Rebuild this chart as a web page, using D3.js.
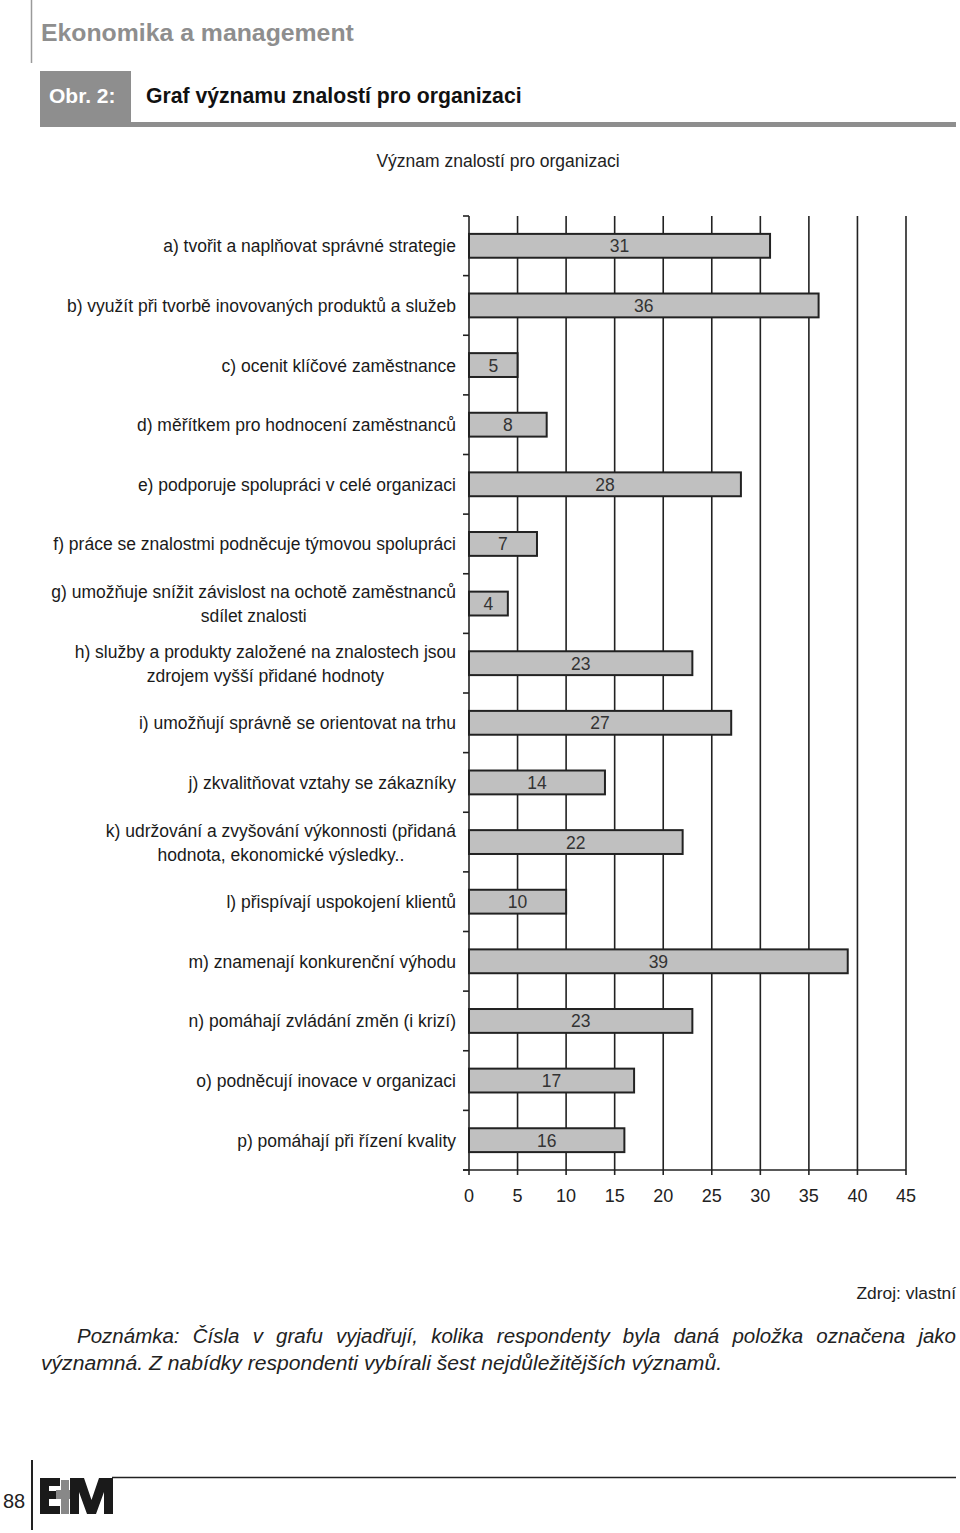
<!DOCTYPE html>
<html><head><meta charset="utf-8">
<script src="https://cdn.jsdelivr.net/npm/d3@7"></script>
<style>body{margin:0;background:#fff}svg{display:block}text{font-family:"Liberation Sans",Arial,Helvetica,sans-serif}</style>
</head><body>
<script>
const categories = [
  ["a) tvořit a naplňovat správné strategie"],
  ["b) využít při tvorbě inovovaných produktů a služeb"],
  ["c) ocenit klíčové zaměstnance"],
  ["d) měřítkem pro hodnocení zaměstnanců"],
  ["e) podporuje spolupráci v celé organizaci"],
  ["f) práce se znalostmi podněcuje týmovou spolupráci"],
  ["g) umožňuje snížit závislost na ochotě zaměstnanců", "sdílet znalosti"],
  ["h) služby a produkty založené na znalostech jsou", "zdrojem vyšší přidané hodnoty"],
  ["i) umožňují správně se orientovat na trhu"],
  ["j) zkvalitňovat vztahy se zákazníky"],
  ["k) udržování a zvyšování výkonnosti (přidaná", "hodnota, ekonomické výsledky.."],
  ["l) přispívají uspokojení klientů"],
  ["m) znamenají konkurenční výhodu"],
  ["n) pomáhají zvládání změn (i krizí)"],
  ["o) podněcují inovace v organizaci"],
  ["p) pomáhají při řízení kvality"]
];
const values = [31, 36, 5, 8, 28, 7, 4, 23, 27, 14, 22, 10, 39, 23, 17, 16];
const xTicks = [0, 5, 10, 15, 20, 25, 30, 35, 40, 45];
const chartTitle = "Význam znalostí pro organizaci";
const noteLine1 = "Poznámka: Čísla v grafu vyjadřují, kolika respondenty byla daná položka označena jako";
const noteLine2 = "významná. Z nabídky respondenti vybírali šest nejdůležitějších významů.";

const W = 960, H = 1533;
const svg = d3.select("body").append("svg").attr("width", W).attr("height", H);

// Header
svg.append("line").attr("x1", 31.5).attr("x2", 31.5).attr("y1", 0).attr("y2", 63).attr("stroke", "#9a9a9a").attr("stroke-width", 1.5);
svg.append("text").attr("x", 41).attr("y", 41).attr("font-size", 24.8).attr("font-weight", "bold").attr("fill", "#8e8e8e").text("Ekonomika a management");
svg.append("rect").attr("x", 40).attr("y", 71).attr("width", 91).attr("height", 56).attr("fill", "#8e8e8e");
svg.append("rect").attr("x", 40).attr("y", 122).attr("width", 916).attr("height", 5).attr("fill", "#8e8e8e");
svg.append("text").attr("x", 49).attr("y", 103).attr("font-size", 21).attr("font-weight", "bold").attr("fill", "#fff").text("Obr. 2:");
svg.append("text").attr("x", 146).attr("y", 103).attr("font-size", 21.2).attr("font-weight", "bold").attr("fill", "#111").text("Graf významu znalostí pro organizaci");

// Chart title
svg.append("text").attr("x", 498).attr("y", 167).attr("text-anchor", "middle").attr("font-size", 17.5).attr("fill", "#222").text(chartTitle);

// Scales
const x0 = 469, x1 = 906, yTop = 216, yBot = 1170;
const x = d3.scaleLinear().domain([0, 45]).range([x0, x1]);
const y = d3.scaleBand().domain(d3.range(categories.length)).range([yTop, yBot]).padding(0);
const barH = y.bandwidth() * 0.4;
const ink = "#222";

const g = svg.append("g");
g.selectAll("line.grid").data(xTicks.slice(1)).join("line")
  .attr("x1", d => x(d)).attr("x2", d => x(d)).attr("y1", yTop).attr("y2", yBot)
  .attr("stroke", ink).attr("stroke-width", 1.6);
g.append("line").attr("x1", x0).attr("x2", x0).attr("y1", yTop).attr("y2", yBot).attr("stroke", ink).attr("stroke-width", 1.6);
const bounds = d3.range(categories.length + 1).map(i => i < categories.length ? y(i) : yBot);
g.selectAll("line.ytick").data(bounds).join("line")
  .attr("x1", x0 - 6).attr("x2", x0).attr("y1", d => d).attr("y2", d => d).attr("stroke", ink).attr("stroke-width", 1.6);
g.append("line").attr("x1", x0 - 6).attr("x2", x1).attr("y1", yBot).attr("y2", yBot).attr("stroke", ink).attr("stroke-width", 1.6);
g.selectAll("line.xtick").data(xTicks).join("line")
  .attr("x1", d => x(d)).attr("x2", d => x(d)).attr("y1", yBot).attr("y2", yBot + 5).attr("stroke", ink).attr("stroke-width", 1.6);
g.selectAll("text.xlab").data(xTicks).join("text")
  .attr("x", d => x(d)).attr("y", yBot + 32).attr("text-anchor", "middle").attr("font-size", 18).attr("fill", "#222").text(d => d);

g.selectAll("rect.bar").data(values).join("rect")
  .attr("x", x(0)).attr("y", (d, i) => y(i) + y.bandwidth() / 2 - barH / 2)
  .attr("width", d => x(d) - x(0)).attr("height", barH)
  .attr("fill", "#c0c0c0").attr("stroke", ink).attr("stroke-width", 2);
g.selectAll("text.val").data(values).join("text")
  .attr("x", d => (x(0) + x(d)) / 2).attr("y", (d, i) => y(i) + y.bandwidth() / 2 + 6.5)
  .attr("text-anchor", "middle").attr("font-size", 17.5).attr("fill", "#333").text(d => d);

categories.forEach((lines, i) => {
  const cy = y(i) + y.bandwidth() / 2;
  const right = 456;
  if (lines.length === 1) {
    svg.append("text").attr("x", right).attr("y", cy + 6.5).attr("text-anchor", "end")
      .attr("font-size", 17.5).attr("fill", "#1a1a1a").text(lines[0]);
  } else {
    const ts = lines.map((l, k) => svg.append("text").attr("y", cy - 12 + 24 * k + 6.5)
      .attr("font-size", 17.5).attr("fill", "#1a1a1a").attr("text-anchor", "middle").text(l));
    const maxW = d3.max(ts, t => t.node().getComputedTextLength());
    ts.forEach(t => t.attr("x", right - maxW / 2));
  }
});

svg.append("text").attr("x", 956).attr("y", 1299).attr("text-anchor", "end").attr("font-size", 17.4).attr("fill", "#222").text("Zdroj: vlastní");

function justify(str, xL, xR, yy) {
  const words = str.split(" ");
  const tmp = words.map(w => svg.append("text").attr("font-size", 20.5).attr("font-style", "italic").attr("fill", "#222").attr("y", yy).text(w));
  const widths = tmp.map(t => t.node().getComputedTextLength());
  const gap = (xR - xL - d3.sum(widths)) / (words.length - 1);
  let cx = xL;
  tmp.forEach((t, k) => { t.attr("x", cx); cx += widths[k] + gap; });
}
justify(noteLine1, 77, 956, 1343);
const n2 = svg.append("text").attr("x", 41).attr("y", 1370).attr("font-size", 20.5).attr("font-style", "italic").attr("fill", "#222").text(noteLine2);
n2.attr("textLength", 681).attr("lengthAdjust", "spacingAndGlyphs");

svg.append("line").attr("x1", 32).attr("x2", 32).attr("y1", 1460).attr("y2", 1530).attr("stroke", "#222").attr("stroke-width", 2);
svg.append("text").attr("x", 3).attr("y", 1508).attr("font-size", 20).attr("fill", "#222").text("88");
svg.append("line").attr("x1", 112).attr("x2", 956).attr("y1", 1477.5).attr("y2", 1477.5).attr("stroke", "#222").attr("stroke-width", 1.5);
svg.append("path").attr("fill", "#1a1a1a").attr("d", "M40,1478 H60 V1486 H49 V1491 H56 V1499 H49 V1506 H60 V1514 H40 Z");
svg.append("path").attr("fill", "#888").attr("d", "M56,1490 H61 V1480 H69 V1490 H74 V1499 H69 V1514 H61 V1499 H56 Z");
svg.append("path").attr("fill", "#1a1a1a").attr("d", "M70,1514 V1478 H84 L91.5,1500 L99,1478 H113 V1514 H104 V1492 L96,1514 H87 L79,1492 V1514 Z");
</script>
</body></html>
